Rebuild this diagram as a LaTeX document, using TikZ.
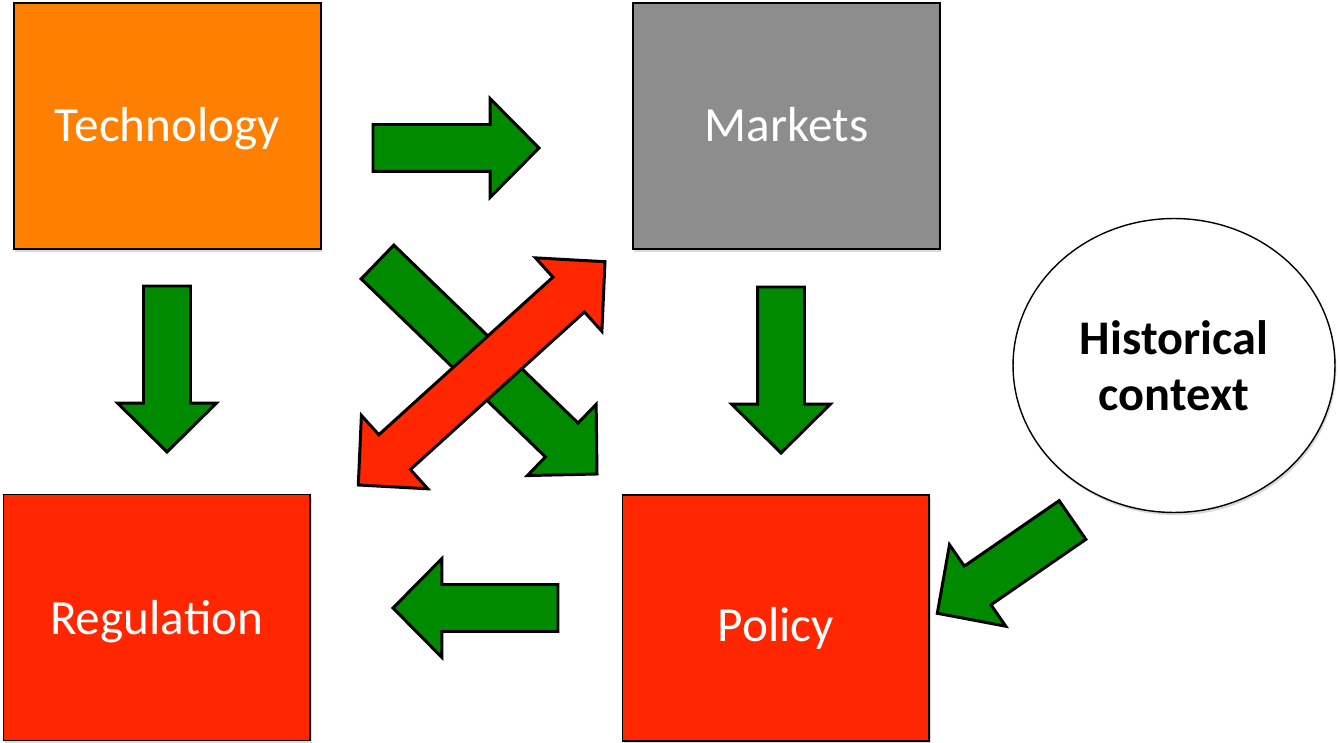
\documentclass[tikz,border=0pt]{standalone}
\usepackage{fontspec}
\setmainfont{Carlito}
\usetikzlibrary{calc,shapes.geometric,shadows}
\definecolor{techorange}{RGB}{255,127,0}
\definecolor{mktgray}{RGB}{141,141,141}
\definecolor{polred}{RGB}{255,38,0}
\definecolor{flowgreen}{RGB}{0,138,0}

% fat block arrows between two named coordinates
\def\shaftw{0.47cm}
\def\headw{0.99cm}
\def\headl{0.98cm}
\newcommand{\blockarrow}[3][flow]{%
  \draw[#1] ($(#2)!\shaftw!90:(#3)$) -- ($(#3)!\headl!(#2)!\shaftw!90:(#3)$)
    -- ($(#3)!\headl!(#2)!\headw!90:(#3)$) -- (#3)
    -- ($(#3)!\headl!(#2)!\headw!-90:(#3)$) -- ($(#3)!\headl!(#2)!\shaftw!-90:(#3)$)
    -- ($(#2)!\shaftw!-90:(#3)$) -- cycle;}
\newcommand{\blockdarrow}[3][flow]{%
  \draw[#1] ($(#2)!\headl!(#3)!\shaftw!90:(#3)$) -- ($(#3)!\headl!(#2)!\shaftw!90:(#3)$)
    -- ($(#3)!\headl!(#2)!\headw!90:(#3)$) -- (#3)
    -- ($(#3)!\headl!(#2)!\headw!-90:(#3)$) -- ($(#3)!\headl!(#2)!\shaftw!-90:(#3)$)
    -- ($(#2)!\headl!(#3)!\shaftw!-90:(#3)$) -- ($(#2)!\headl!(#3)!\headw!-90:(#3)$)
    -- (#2) -- ($(#2)!\headl!(#3)!\headw!90:(#3)$) -- cycle;}

\begin{document}
\begin{tikzpicture}[x=0.02cm,y=-0.02cm,
  box/.style={draw=black,line width=0.8pt,minimum width=6.14cm,minimum height=4.92cm,inner sep=0pt,
    text=white,font=\fontsize{28}{32}\selectfont,text height=17.8pt,text depth=0pt,
    drop shadow={opacity=0.3,shadow xshift=0.8pt,shadow yshift=-1.6pt}},
  flow/.style={fill=flowgreen,draw=black,line width=1.7pt},
  back/.style={fill=polred,draw=black,line width=1.7pt}]
\useasboundingbox (0,0) rectangle (1340,743);

% the four boxes and the context bubble
\node[box,fill=techorange] (tech) at (167.5,126) {Technology};
\node[box,fill=mktgray] (mkt) at (786.5,126) {Markets};
\node[box,fill=polred,text height=19.8pt] (reg) at (156.7,617.5) {Regula{\addfontfeatures{Ligatures=Rare}ti}on};
\node[box,fill=polred,text height=26.9pt] (pol) at (775.7,618) {Policy};
\node[ellipse,draw=black,line width=0.8pt,fill=white,minimum width=6.44cm,minimum height=5.88cm,
  align=center,font=\fontsize{27.5}{32}\selectfont\bfseries,
  drop shadow={opacity=0.3,shadow xshift=0.8pt,shadow yshift=-1.6pt}] (hist) at (1174,365.5) {Historical\\context};

% arrow ends
\coordinate (tm1) at (373,148);  \coordinate (tm2) at (539,148);
\coordinate (tr1) at (167,286);  \coordinate (tr2) at (167,452);
\coordinate (mp1) at (781,287);  \coordinate (mp2) at (781,453);
\coordinate (pr1) at (558,608);  \coordinate (pr2) at (393,608);
\coordinate (tp1) at (377.5,262); \coordinate (tp2) at (597,474);
\coordinate (rm1) at (358.3,485); \coordinate (rm2) at (605,261.7);
\coordinate (hp1) at (1072.5,520); \coordinate (hp2) at (937.3,613.3);

\blockarrow{tm1}{tm2}
\blockarrow{tr1}{tr2}
\blockarrow{mp1}{mp2}
\blockarrow{pr1}{pr2}
\blockarrow{tp1}{tp2}
\blockdarrow[back]{rm1}{rm2}
\blockarrow{hp1}{hp2}
\end{tikzpicture}
\end{document}
